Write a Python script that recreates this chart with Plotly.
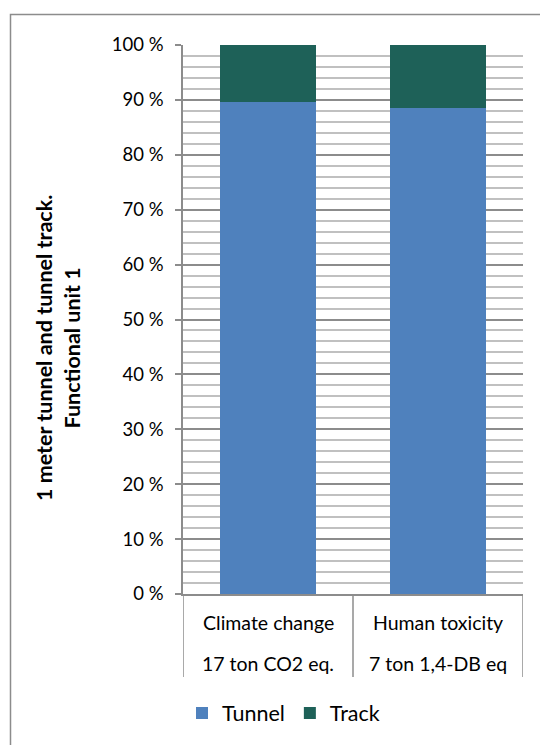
import plotly.graph_objects as go

categories = ["Climate change", "Human toxicity"]
units = ["17 ton CO2 eq.", "7 ton 1,4-DB eq"]
tunnel = [89.7, 88.6]
track = [10.3, 11.4]

FONT = "Lato"
GRID_MAJOR = "#8c8c8c"
GRID_MINOR = "#c0c0c0"

# the page body adds an 8px margin, so work in page px and shift by it
OFF = 8
FIG_W, FIG_H = 548, 745
PLOT_X0, PLOT_X1 = 183, 523
PLOT_Y0, PLOT_Y1 = 45, 594
L = PLOT_X0 - OFF
T = PLOT_Y0 - OFF
R = FIG_W - (PLOT_X1 - OFF)
B = FIG_H - (PLOT_Y1 - OFF)
W = PLOT_X1 - PLOT_X0
H = PLOT_Y1 - PLOT_Y0


def px_x(px):
    return (px - PLOT_X0) / W


def px_y(py):
    return (PLOT_Y1 - py) / H


fig = go.Figure()
fig.add_trace(go.Bar(x=categories, y=tunnel, name="Tunnel", marker_color="#4f81bd",
                     marker_line_width=0, width=0.57))
fig.add_trace(go.Bar(x=categories, y=track, name="Track", marker_color="#1e6158",
                     marker_line_width=0, width=0.57))

fig.update_layout(
    barmode="stack",
    width=FIG_W, height=FIG_H,
    margin=dict(l=L, r=R, t=T, b=B, autoexpand=False),
    paper_bgcolor="white", plot_bgcolor="white",
    font=dict(family=FONT, size=18, color="#000000"),
    showlegend=True,
    legend=dict(orientation="h", x=px_x(182), y=px_y(713), xanchor="left", yanchor="middle",
                font=dict(size=21.5), itemwidth=30, traceorder="normal", itemclick=False),
)

fig.update_xaxes(
    showticklabels=False, showgrid=False, showline=True, linecolor=GRID_MAJOR, linewidth=1.5,
    range=[-0.5, 1.5], fixedrange=True,
)
fig.update_yaxes(
    range=[0, 100], dtick=10, ticksuffix=" %", showline=True, linecolor=GRID_MAJOR, linewidth=1.5,
    ticks="outside", ticklen=6, tickcolor=GRID_MAJOR, tickwidth=1.5, ticklabelstandoff=8,
    showgrid=True, gridcolor=GRID_MAJOR, gridwidth=1.5, zeroline=False,
    tickfont=dict(size=18.5),
    minor=dict(dtick=2, showgrid=True, gridcolor=GRID_MINOR, gridwidth=1.5, ticks=""),
)

# category label box separators
for xv in [-0.5, 0.5, 1.5]:
    fig.add_shape(type="line", xref="x", yref="paper", x0=xv, x1=xv, y0=0, y1=px_y(677),
                  line=dict(color=GRID_MAJOR, width=1.5))

for c, u in zip(categories, units):
    fig.add_annotation(x=c, y=px_y(622), xref="x", yref="paper", text=c, showarrow=False,
                       xanchor="center", yanchor="middle", font=dict(size=19.5))
    fig.add_annotation(x=c, y=px_y(663), xref="x", yref="paper", text=u, showarrow=False,
                       xanchor="center", yanchor="middle", font=dict(size=19.5))

# y title
fig.add_annotation(x=px_x(58), y=px_y(348), xref="paper", yref="paper",
                   text="<b>1 meter tunnel and tunnel track.</b><br><b>Functional unit 1</b>",
                   textangle=-90, showarrow=False, xanchor="center", yanchor="middle",
                   font=dict(size=21.5))

# chart outer border
fig.add_shape(type="rect", xref="paper", yref="paper", x0=px_x(10.5), x1=px_x(570),
              y0=px_y(770), y1=px_y(14.5), line=dict(color="#8c8c8c", width=1.5),
              fillcolor="rgba(0,0,0,0)", layer="below")

fig.write_html("out.html")
